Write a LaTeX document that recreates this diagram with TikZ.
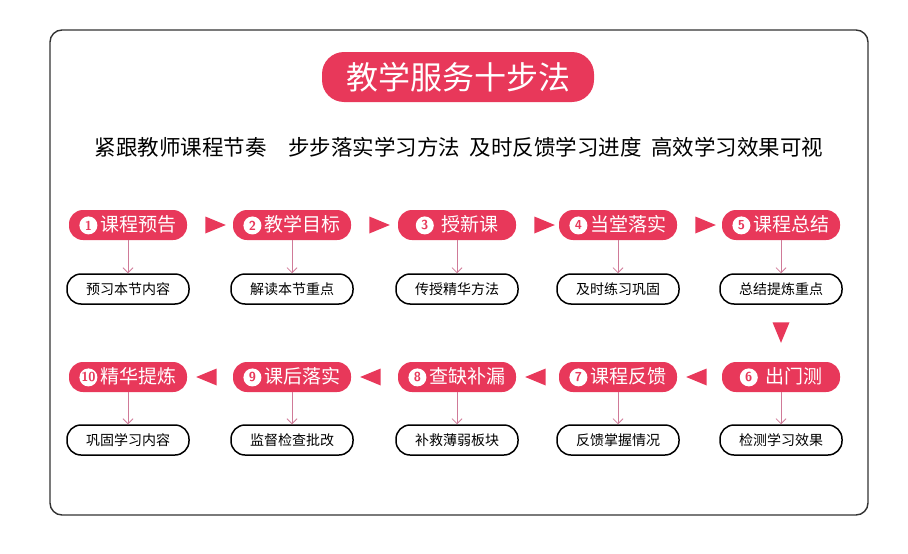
\documentclass[tikz,border=0pt]{standalone}
\usepackage{fontspec}
\newfontfamily\cjk{Noto Sans CJK SC}
\usetikzlibrary{shapes.geometric, arrows.meta, positioning}
\definecolor{mainred}{HTML}{E8385A}
\definecolor{linkpink}{HTML}{D07A98}
\newcommand{\num}[1]{\tikz[baseline=-0.6ex]\node[circle, fill=white, text=mainred, inner sep=0pt, minimum size=18pt, font=\sffamily\bfseries\fontsize{13}{13}\selectfont]{#1};\,}

\begin{document}
\begin{tikzpicture}[x=1pt, y=-1pt,
  stage/.style={rounded corners=14pt, fill=mainred, text=white, minimum width=118pt, minimum height=30pt, inner sep=0pt, font=\cjk\fontsize{19}{19}\selectfont},
  task/.style={rounded corners=14pt, draw=black, line width=1.5pt, fill=white, minimum width=122pt, minimum height=30pt, inner sep=0pt, font=\cjk\fontsize{14}{14}\selectfont},
  link/.style={-{Straight Barb[length=5pt]}, linkpink, thick},
  pointer/.style={isosceles triangle, fill=mainred, minimum width=17pt, minimum height=13pt, inner sep=0pt}
]
\useasboundingbox (0,0) rectangle (908,554);
\draw[rounded corners=12pt, line width=1.4pt, black!80] (50,30) rectangle (868,515);

% Title
\node[rounded corners=22pt, fill=mainred, text=white, minimum width=272pt, minimum height=50pt, font=\cjk\fontsize{32}{32}\selectfont] (title) at (458,77) {教学服务十步法};
\node[font=\cjk\fontsize{21.5}{22}\selectfont] (motto) at (459,147) {紧跟教师课程节奏\quad 步步落实学习方法\ \ 及时反馈学习进度\ \ 高效学习效果可视};

% Top row
\node[stage] (S1) at (128,225) {\num{1}课程预告};
\node[stage] (S2) at (292,225) {\num{2}教学目标};
\node[stage] (S3) at (457,225) {\num{3}\ 授新课};
\node[stage] (S4) at (618,225) {\num{4}当堂落实};
\node[stage] (S5) at (781,225) {\num{5}课程总结};
\node[task] (T1) at (128,289) {预习本节内容};
\node[task] (T2) at (292,289) {解读本节重点};
\node[task] (T3) at (457,289) {传授精华方法};
\node[task] (T4) at (618,289) {及时练习巩固};
\node[task] (T5) at (781,289) {总结提炼重点};

% Bottom row
\node[stage] (S10) at (128,377) {\num{10}精华提炼};
\node[stage] (S9) at (292,377) {\num{9}课后落实};
\node[stage] (S8) at (457,377) {\num{8}查缺补漏};
\node[stage] (S7) at (618,377) {\num{7}课程反馈};
\node[stage] (S6) at (781,377) {\num{6}\ 出门测};
\node[task] (T10) at (128,440) {巩固学习内容};
\node[task] (T9) at (292,440) {监督检查批改};
\node[task] (T8) at (457,440) {补救薄弱板块};
\node[task] (T7) at (618,440) {反馈掌握情况};
\node[task] (T6) at (781,440) {检测学习效果};

\foreach \i in {1,...,10}
  \draw[link] (S\i) -- (T\i);

% Pointers
\foreach \x in {211,375,540,701}
  \node[pointer] (R\x) at (\x,225) {};
\foreach \x in {211,375,540,701}
  \node[pointer, shape border rotate=180] (L\x) at (\x,377) {};
\node[pointer, shape border rotate=-90] (D) at (781,328) {};

\end{tikzpicture}
\end{document}
